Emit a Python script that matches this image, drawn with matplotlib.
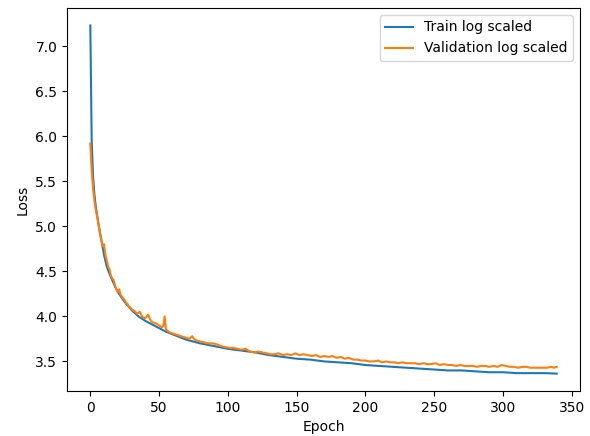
import matplotlib
matplotlib.use("Agg")
import matplotlib.pyplot as plt

train_epochs = [0, 1, 2, 3, 4, 5, 6, 8, 10, 12, 14, 16, 18, 20, 25, 30, 35, 40, 45, 50,
                55, 60, 70, 80, 90, 100, 110, 120, 130, 140, 150, 160, 170, 180, 190,
                200, 210, 220, 230, 240, 250, 260, 270, 280, 290, 300, 310, 320, 330, 339]
train_loss = [7.23, 5.95, 5.55, 5.35, 5.22, 5.12, 5.02, 4.85, 4.68, 4.55, 4.47, 4.40, 4.33,
              4.27, 4.16, 4.07, 4.00, 3.95, 3.91, 3.87, 3.83, 3.80, 3.74, 3.70, 3.67, 3.64,
              3.62, 3.60, 3.57, 3.55, 3.53, 3.52, 3.50, 3.49, 3.48, 3.46, 3.45, 3.44, 3.43,
              3.42, 3.41, 3.40, 3.40, 3.39, 3.38, 3.38, 3.37, 3.37, 3.37, 3.365]

val_epochs = [0, 1, 2, 3, 4, 5, 6, 7, 8, 9, 10, 11, 12, 13, 14, 15, 16, 17, 18, 19, 20,
              21, 22, 23, 24, 25, 26, 27, 28, 29, 30, 32, 34, 36, 38, 40, 42, 44, 46, 48,
              50, 52, 53, 54, 55, 56, 58, 60, 62, 64, 66, 68, 70, 72, 74, 76, 78, 80, 83,
              86, 89, 92, 95, 98, 101, 104, 107, 110, 113, 116, 119, 122, 125, 128, 131,
              134, 137, 140, 143, 146, 149, 152, 155, 158, 161, 164, 167, 170, 173, 176,
              179, 182, 185, 188, 191, 194, 197, 200, 203, 206, 209, 212, 215, 218, 221,
              224, 227, 230, 233, 236, 239, 242, 245, 248, 251, 254, 257, 260, 263, 266,
              269, 272, 275, 278, 281, 284, 287, 290, 293, 296, 299, 302, 305, 308, 311,
              314, 317, 320, 323, 326, 329, 332, 335, 337, 339]
val_loss = [5.92, 5.62, 5.42, 5.28, 5.18, 5.10, 5.02, 4.92, 4.85, 4.78, 4.80, 4.68, 4.62,
            4.55, 4.52, 4.45, 4.42, 4.40, 4.34, 4.30, 4.27, 4.30, 4.24, 4.22, 4.20, 4.18,
            4.15, 4.14, 4.11, 4.10, 4.08, 4.06, 4.03, 4.05, 3.99, 3.98, 4.02, 3.95, 3.93,
            3.92, 3.90, 3.88, 3.89, 4.00, 3.86, 3.84, 3.82, 3.81, 3.80, 3.79, 3.78, 3.77,
            3.76, 3.75, 3.78, 3.74, 3.73, 3.72, 3.71, 3.70, 3.70, 3.69, 3.67, 3.66, 3.65,
            3.65, 3.64, 3.63, 3.64, 3.61, 3.60, 3.61, 3.60, 3.59, 3.58, 3.58, 3.59, 3.57,
            3.58, 3.57, 3.59, 3.57, 3.58, 3.57, 3.56, 3.57, 3.55, 3.56, 3.55, 3.56, 3.54,
            3.55, 3.53, 3.54, 3.52, 3.52, 3.51, 3.51, 3.50, 3.50, 3.51, 3.49, 3.50, 3.49,
            3.49, 3.48, 3.49, 3.48, 3.48, 3.48, 3.47, 3.48, 3.47, 3.47, 3.48, 3.46, 3.47,
            3.46, 3.46, 3.45, 3.46, 3.45, 3.45, 3.45, 3.44, 3.45, 3.45, 3.44, 3.45, 3.44,
            3.46, 3.45, 3.44, 3.44, 3.43, 3.44, 3.44, 3.43, 3.43, 3.43, 3.43, 3.43, 3.44,
            3.43, 3.44]

fig = plt.figure(figsize=(5.9, 4.36), dpi=100)
ax = fig.add_axes([67 / 590, 1 - 391 / 436, (580 - 67) / 590, (391 - 8) / 436])
ax.plot(train_epochs, train_loss, color="#1f77b4", label="Train log scaled")
ax.plot(val_epochs, val_loss, color="#ff7f0e", label="Validation log scaled")
ax.set_xlabel("Epoch")
ax.set_ylabel("Loss")
ax.set_xticks([0, 50, 100, 150, 200, 250, 300, 350])
ax.legend(loc="upper right")
fig.savefig("out.png", dpi=100)
